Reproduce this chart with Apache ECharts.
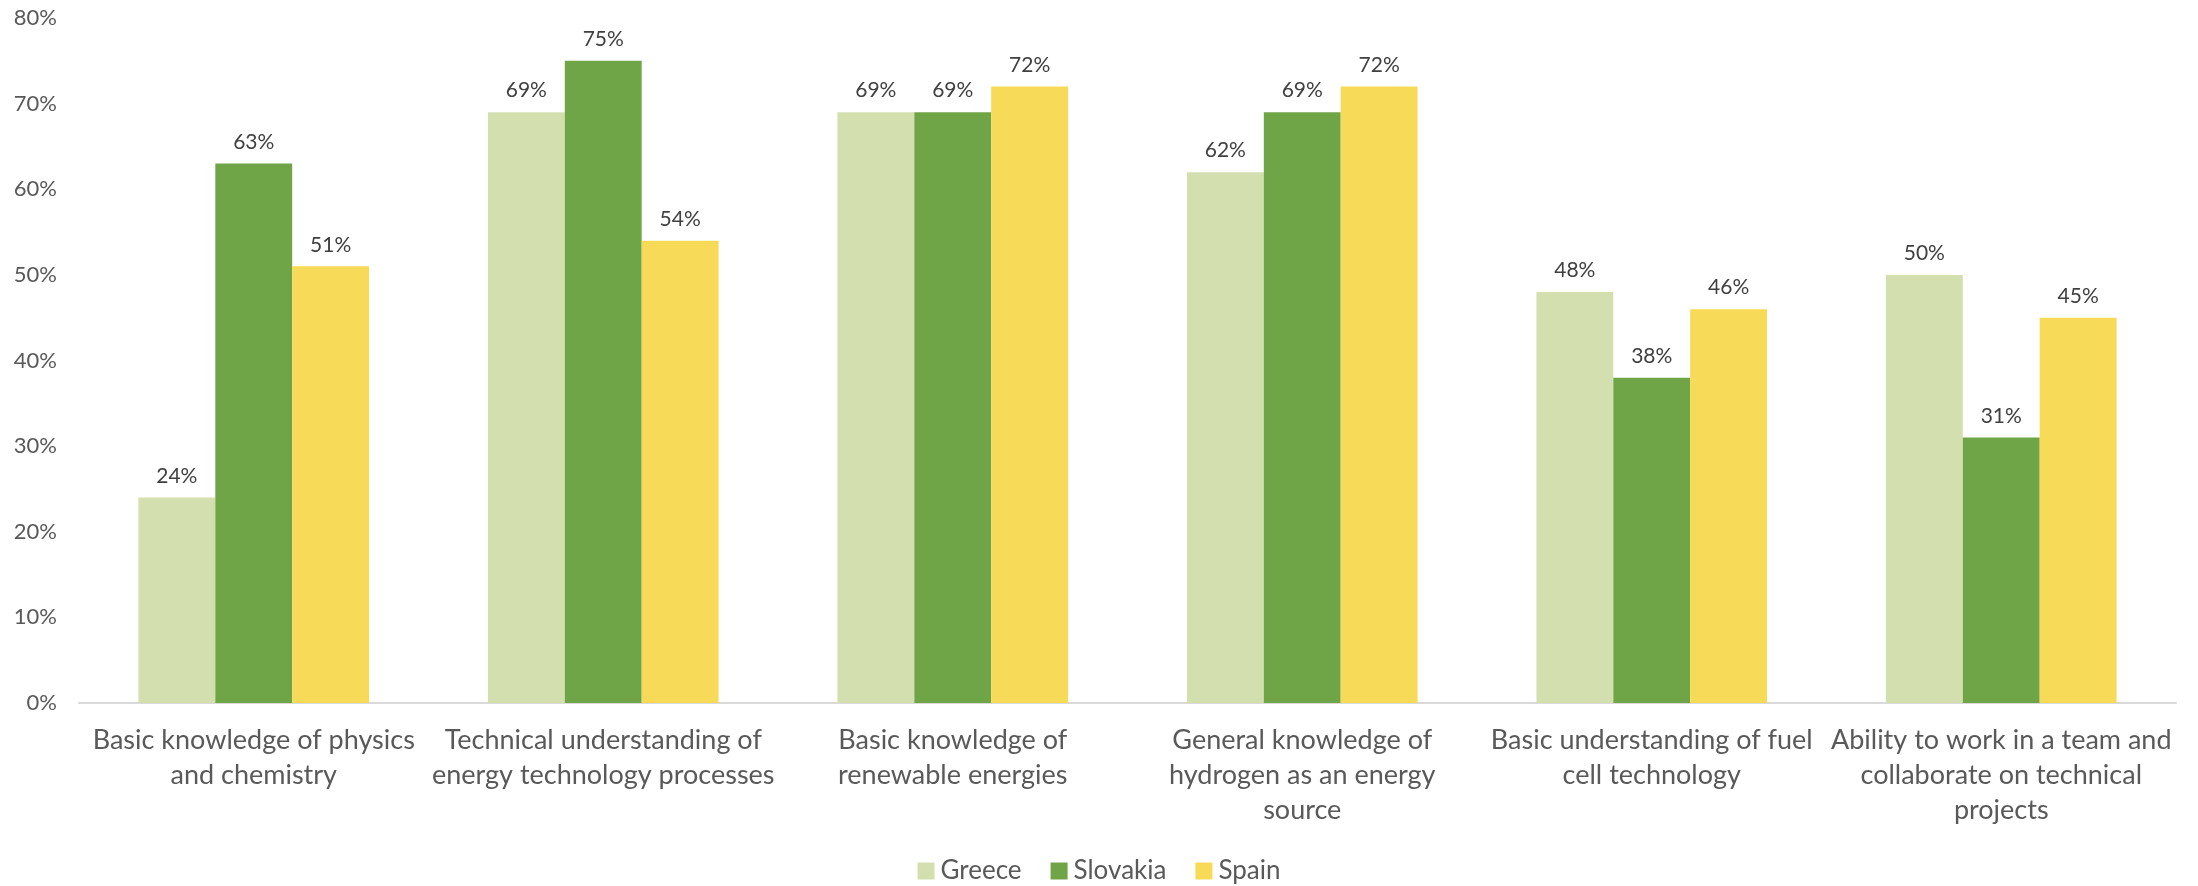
<!DOCTYPE html>
<html>
<head>
<meta charset="utf-8">
<script src="https://cdn.jsdelivr.net/npm/echarts@6/dist/echarts.min.js"></script>
<style>
  html, body { margin: 0; padding: 0; background: #ffffff; }
  #chart { width: 2198px; height: 886px; }
</style>
</head>
<body>
<div id="chart"></div>
<script>
// Skill areas (axis labels carry their own line breaks)
const categories = [
  'Basic knowledge of physics\nand chemistry',
  'Technical understanding of\nenergy technology processes',
  'Basic knowledge of\nrenewable energies',
  'General knowledge of\nhydrogen as an energy\nsource',
  'Basic understanding of fuel\ncell technology',
  'Ability to work in a team and\ncollaborate on technical\nprojects'
];

// Share of respondents per country (%)
const greece   = [24, 69, 69, 62, 48, 50];
const slovakia = [63, 75, 69, 69, 38, 31];
const spain    = [51, 54, 72, 72, 46, 45];

const seriesNames = ['Greece', 'Slovakia', 'Spain'];
const colors = ['#d4dfaf', '#70a547', '#f7da57'];

const FONT = 'Lato, "Open Sans", sans-serif';

const chart = echarts.init(document.getElementById('chart'), null, { renderer: 'canvas' });

const makeSeries = (name, data, color) => ({
  name,
  type: 'bar',
  data,
  barGap: '0%',
  barCategoryGap: '34%',
  itemStyle: { color },
  label: {
    show: true,
    position: 'top',
    distance: 11,
    formatter: p => p.value + '%',
    color: '#404040',
    fontFamily: FONT,
    fontSize: 21
  }
});

chart.setOption({
  animation: false,
  backgroundColor: '#ffffff',
  grid: { left: 79, right: 22, top: 18, bottom: 183, containLabel: false },
  legend: {
    data: seriesNames,
    top: 853,
    left: 'center',
    itemWidth: 17,
    itemHeight: 17,
    itemGap: 29,
    icon: 'rect',
    textStyle: { color: '#595959', fontFamily: FONT, fontSize: 26, padding: [0, 0, 0, 1] }
  },
  xAxis: {
    type: 'category',
    data: categories,
    axisLine: { lineStyle: { color: '#d9d9d9', width: 2 } },
    axisTick: { show: false },
    axisLabel: {
      color: '#595959',
      fontFamily: FONT,
      fontSize: 27,
      lineHeight: 35,
      margin: 20,
      interval: 0
    }
  },
  yAxis: {
    type: 'value',
    min: 0,
    max: 80,
    interval: 10,
    axisLine: { show: false },
    axisTick: { show: false },
    splitLine: { show: false },
    axisLabel: {
      formatter: '{value}%',
      color: '#595959',
      fontFamily: FONT,
      fontSize: 22,
      margin: 22
    }
  },
  series: [
    makeSeries(seriesNames[0], greece, colors[0]),
    makeSeries(seriesNames[1], slovakia, colors[1]),
    makeSeries(seriesNames[2], spain, colors[2])
  ]
});
</script>
</body>
</html>
